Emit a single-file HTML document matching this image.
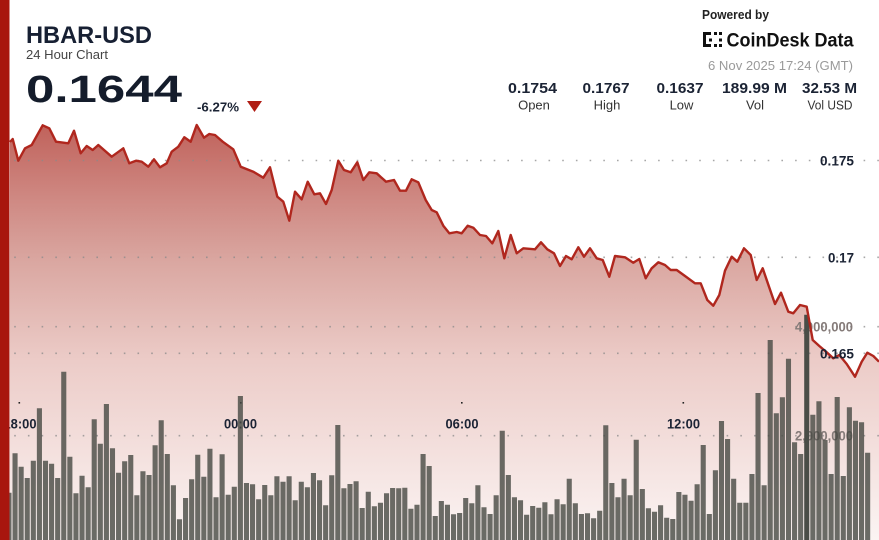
<!DOCTYPE html>
<html><head><meta charset="utf-8"><style>
html,body{margin:0;padding:0;background:#fff;overflow:hidden;}
svg{display:block;}
text{font-family:"Liberation Sans",Arial,sans-serif;}
</style></head><body>
<svg width="879" height="540" viewBox="0 0 879 540" xmlns="http://www.w3.org/2000/svg">
<defs>
<linearGradient id="ag" gradientUnits="userSpaceOnUse" x1="0" y1="125" x2="0" y2="540">
<stop offset="0" stop-color="#c0625b"/>
<stop offset="0.18" stop-color="#cf8983"/>
<stop offset="0.33" stop-color="#daa7a1"/>
<stop offset="0.57" stop-color="#ecccc8"/>
<stop offset="1" stop-color="#fbf4f3"/>
</linearGradient>
</defs>
<rect width="879" height="540" fill="#fff"/>
<path fill="url(#ag)" d="M10,540 L10,142 L12.7,139 L18.3,160.7 L25,148.3 L31.7,145 L42.7,125.3 L49.3,128.3 L56,141.7 L68.3,143.3 L74,130.7 L80.7,153.3 L86.7,146 L92.7,150 L98.3,145 L111.7,156.7 L123.3,148.3 L129.3,163.3 L136,160.7 L141.7,161.7 L148.3,166.7 L154,159.3 L160,167.3 L166.7,163.3 L171.7,151.7 L178.3,146.7 L184.3,137.3 L190.7,141.7 L196.7,125 L204,137.7 L209.3,134 L215,135 L222.7,141.7 L233.3,149.3 L240.7,166.7 L253.3,171.7 L263.3,177.7 L270,167.3 L277.3,196.7 L283.3,201.7 L289.3,220.7 L295,191.7 L301.7,199.3 L307.7,181.7 L314.3,194.3 L320,193.3 L326,204 L331.7,190 L338.3,160.7 L344,170 L350.7,172.3 L357.3,162.3 L363.3,180 L369.3,172.3 L376.7,173.3 L386,181.7 L394,180 L400,190.7 L406,190.7 L411.7,179.3 L418.3,182.3 L425.7,200 L431.7,210 L436.7,212.3 L443.3,225.7 L449.3,233.3 L456.7,232 L461.7,233.3 L467.7,225.7 L473.3,227.7 L480,235 L486,236 L492.3,243.3 L498.3,231 L504.3,258.3 L510.7,235 L516.7,253.3 L523.3,248.3 L535,249.3 L541,242.3 L547.3,249.3 L554,253.3 L560,266 L566,256 L571.7,259.3 L578.3,247.3 L584,256.7 L590,248.3 L596.7,258.3 L602.7,260 L609.3,276.7 L615,256 L625,257.3 L633.3,262.7 L639.3,259 L645.7,278.3 L651.7,268.3 L658.3,262.3 L665,265 L670.7,270 L676.7,270 L685,276 L695,283.3 L700.7,283.3 L707.3,300 L713.3,305.7 L719.3,295 L725,270.7 L731.7,256.7 L737.3,261.7 L744,248.3 L750.7,255 L756.7,280 L762.7,268.3 L769,286.7 L775,304 L781,292.7 L788.3,311.7 L793.3,313.3 L800,305 L806.7,306.7 L812.7,340 L819.3,346 L826,351.7 L833.3,358.3 L839.3,355 L846.7,364 L855,376.7 L861.7,361.7 L867.3,352.7 L873.3,356 L879,361.7 L879,540 Z"/>
<g stroke="#8a8a8a" stroke-width="1.6" stroke-dasharray="1.6 12.1" opacity="0.75">
<line x1="14.2" y1="160.5" x2="879" y2="160.5"/>
<line x1="14.2" y1="257.3" x2="879" y2="257.3"/>
<line x1="14.2" y1="353.3" x2="879" y2="353.3"/>
<line x1="14.2" y1="326.7" x2="879" y2="326.7"/>
<line x1="14.2" y1="435.7" x2="879" y2="435.7"/>
</g>
<g font-size="13.5" font-weight="bold" fill="#857b79" text-anchor="end">
<text x="853" y="331.5" textLength="58" lengthAdjust="spacingAndGlyphs">4,000,000</text>
<text x="853" y="440.7" textLength="58" lengthAdjust="spacingAndGlyphs">2,000,000</text>
</g>
<g fill="#222">
<rect x="18.5" y="402" width="1.6" height="1.6"/>
<rect x="240" y="402" width="1.6" height="1.6"/>
<rect x="461" y="402" width="1.6" height="1.6"/>
<rect x="682.5" y="402" width="1.6" height="1.6"/>
</g>
<g font-size="13.5" font-weight="bold" fill="#1b2334" text-anchor="middle">
<text x="20" y="428.5" textLength="33" lengthAdjust="spacingAndGlyphs">18:00</text>
<text x="240.5" y="428.5" textLength="33" lengthAdjust="spacingAndGlyphs">00:00</text>
<text x="462" y="428.5" textLength="33" lengthAdjust="spacingAndGlyphs">06:00</text>
<text x="683.5" y="428.5" textLength="33" lengthAdjust="spacingAndGlyphs">12:00</text>
</g>
<path fill="#464842" fill-opacity="0.8" d="M6.41 540V492.7h5.1V540z M12.5 540V453.3h5.1V540z M18.59 540V466.7h5.1V540z M24.68 540V478h5.1V540z M30.77 540V460.7h5.1V540z M36.86 540V408.3h5.1V540z M42.95 540V460.7h5.1V540z M49.04 540V463.7h5.1V540z M55.13 540V478h5.1V540z M61.22 540V371.7h5.1V540z M67.31 540V456.7h5.1V540z M73.4 540V493.3h5.1V540z M79.49 540V475.7h5.1V540z M85.58 540V487.3h5.1V540z M91.67 540V419.3h5.1V540z M97.76 540V443.7h5.1V540z M103.85 540V404h5.1V540z M109.94 540V448.3h5.1V540z M116.03 540V472.7h5.1V540z M122.12 540V461.3h5.1V540z M128.21 540V455h5.1V540z M134.3 540V495.3h5.1V540z M140.39 540V471.3h5.1V540z M146.48 540V475h5.1V540z M152.57 540V445.3h5.1V540z M158.66 540V420.3h5.1V540z M164.75 540V454h5.1V540z M170.84 540V485.3h5.1V540z M176.93 540V519.3h5.1V540z M183.02 540V498h5.1V540z M189.11 540V479.3h5.1V540z M195.2 540V454.7h5.1V540z M201.29 540V476.7h5.1V540z M207.38 540V448.7h5.1V540z M213.47 540V497.3h5.1V540z M219.56 540V454.3h5.1V540z M225.65 540V494.7h5.1V540z M231.74 540V486.7h5.1V540z M237.83 540V396h5.1V540z M243.92 540V483h5.1V540z M250.01 540V484.3h5.1V540z M256.1 540V499.3h5.1V540z M262.19 540V485h5.1V540z M268.28 540V495.3h5.1V540z M274.37 540V476.3h5.1V540z M280.46 540V481.7h5.1V540z M286.55 540V476.3h5.1V540z M292.64 540V500.3h5.1V540z M298.73 540V481.7h5.1V540z M304.82 540V487.3h5.1V540z M310.91 540V473h5.1V540z M317 540V480.3h5.1V540z M323.09 540V505.3h5.1V540z M329.18 540V475.3h5.1V540z M335.27 540V425h5.1V540z M341.36 540V488.3h5.1V540z M347.45 540V484h5.1V540z M353.54 540V481.3h5.1V540z M359.63 540V508h5.1V540z M365.72 540V491.7h5.1V540z M371.81 540V506.3h5.1V540z M377.9 540V502.7h5.1V540z M383.99 540V493.3h5.1V540z M390.08 540V488h5.1V540z M396.17 540V488.3h5.1V540z M402.26 540V487.7h5.1V540z M408.35 540V508.7h5.1V540z M414.44 540V504.7h5.1V540z M420.53 540V454h5.1V540z M426.62 540V466h5.1V540z M432.71 540V516h5.1V540z M438.8 540V501h5.1V540z M444.89 540V504.7h5.1V540z M450.98 540V514.3h5.1V540z M457.07 540V513h5.1V540z M463.16 540V498h5.1V540z M469.25 540V503.3h5.1V540z M475.34 540V485.3h5.1V540z M481.43 540V507.3h5.1V540z M487.52 540V514h5.1V540z M493.61 540V495.3h5.1V540z M499.7 540V430.7h5.1V540z M505.79 540V475h5.1V540z M511.88 540V497.3h5.1V540z M517.97 540V500.3h5.1V540z M524.06 540V514.7h5.1V540z M530.15 540V506h5.1V540z M536.24 540V507.7h5.1V540z M542.33 540V502.3h5.1V540z M548.42 540V514.3h5.1V540z M554.51 540V499.3h5.1V540z M560.6 540V504.3h5.1V540z M566.69 540V478.7h5.1V540z M572.78 540V503.3h5.1V540z M578.87 540V514h5.1V540z M584.96 540V513.3h5.1V540z M591.05 540V518.3h5.1V540z M597.14 540V510.7h5.1V540z M603.23 540V425.3h5.1V540z M609.32 540V483h5.1V540z M615.41 540V497.3h5.1V540z M621.5 540V478.7h5.1V540z M627.59 540V495.3h5.1V540z M633.68 540V439.7h5.1V540z M639.77 540V489h5.1V540z M645.86 540V508.3h5.1V540z M651.95 540V511.7h5.1V540z M658.04 540V505.3h5.1V540z M664.13 540V517.7h5.1V540z M670.22 540V519h5.1V540z M676.31 540V492h5.1V540z M682.4 540V494.7h5.1V540z M688.49 540V500.7h5.1V540z M694.58 540V484.3h5.1V540z M700.67 540V445h5.1V540z M706.76 540V514h5.1V540z M712.85 540V470.3h5.1V540z M718.94 540V421h5.1V540z M725.03 540V439h5.1V540z M731.12 540V478.7h5.1V540z M737.21 540V502.7h5.1V540z M743.3 540V502.7h5.1V540z M749.39 540V474h5.1V540z M755.48 540V393h5.1V540z M761.57 540V485.3h5.1V540z M767.66 540V340h5.1V540z M773.75 540V413.3h5.1V540z M779.84 540V397.3h5.1V540z M785.93 540V358.7h5.1V540z M792.02 540V442.3h5.1V540z M798.11 540V454h5.1V540z M810.29 540V414.7h5.1V540z M816.38 540V401.3h5.1V540z M822.47 540V440h5.1V540z M828.56 540V474h5.1V540z M834.65 540V397h5.1V540z M840.74 540V476h5.1V540z M846.83 540V407.3h5.1V540z M852.92 540V420.7h5.1V540z M859.01 540V422.3h5.1V540z M865.1 540V452.7h5.1V540z"/>
<path fill="#4a4d47" d="M804.2 540V314.7h5.1V540z"/>
<polyline fill="none" stroke="#b0271e" stroke-width="2.4" stroke-linejoin="round" points="10,142 12.7,139 18.3,160.7 25,148.3 31.7,145 42.7,125.3 49.3,128.3 56,141.7 68.3,143.3 74,130.7 80.7,153.3 86.7,146 92.7,150 98.3,145 111.7,156.7 123.3,148.3 129.3,163.3 136,160.7 141.7,161.7 148.3,166.7 154,159.3 160,167.3 166.7,163.3 171.7,151.7 178.3,146.7 184.3,137.3 190.7,141.7 196.7,125 204,137.7 209.3,134 215,135 222.7,141.7 233.3,149.3 240.7,166.7 253.3,171.7 263.3,177.7 270,167.3 277.3,196.7 283.3,201.7 289.3,220.7 295,191.7 301.7,199.3 307.7,181.7 314.3,194.3 320,193.3 326,204 331.7,190 338.3,160.7 344,170 350.7,172.3 357.3,162.3 363.3,180 369.3,172.3 376.7,173.3 386,181.7 394,180 400,190.7 406,190.7 411.7,179.3 418.3,182.3 425.7,200 431.7,210 436.7,212.3 443.3,225.7 449.3,233.3 456.7,232 461.7,233.3 467.7,225.7 473.3,227.7 480,235 486,236 492.3,243.3 498.3,231 504.3,258.3 510.7,235 516.7,253.3 523.3,248.3 535,249.3 541,242.3 547.3,249.3 554,253.3 560,266 566,256 571.7,259.3 578.3,247.3 584,256.7 590,248.3 596.7,258.3 602.7,260 609.3,276.7 615,256 625,257.3 633.3,262.7 639.3,259 645.7,278.3 651.7,268.3 658.3,262.3 665,265 670.7,270 676.7,270 685,276 695,283.3 700.7,283.3 707.3,300 713.3,305.7 719.3,295 725,270.7 731.7,256.7 737.3,261.7 744,248.3 750.7,255 756.7,280 762.7,268.3 769,286.7 775,304 781,292.7 788.3,311.7 793.3,313.3 800,305 806.7,306.7 812.7,340 819.3,346 826,351.7 833.3,358.3 839.3,355 846.7,364 855,376.7 861.7,361.7 867.3,352.7 873.3,356 879,361.7"/>
<g font-size="13.5" font-weight="bold" fill="#1b2334" text-anchor="end">
<text x="854" y="165.5" textLength="34" lengthAdjust="spacingAndGlyphs">0.175</text>
<text x="854" y="262.3" textLength="26" lengthAdjust="spacingAndGlyphs">0.17</text>
<text x="854" y="358.3" textLength="34" lengthAdjust="spacingAndGlyphs">0.165</text>
</g>
<rect x="0" y="0" width="9.5" height="540" fill="#a8160e"/>
<text x="26" y="43" font-size="24" font-weight="bold" fill="#172033" textLength="126" lengthAdjust="spacingAndGlyphs">HBAR-USD</text>
<text x="26" y="59" font-size="13" fill="#444" textLength="82" lengthAdjust="spacingAndGlyphs">24 Hour Chart</text>
<text x="26" y="102" font-size="38" font-weight="bold" fill="#141c2b" textLength="156" lengthAdjust="spacingAndGlyphs">0.1644</text>
<text x="197" y="111.5" font-size="13" font-weight="bold" fill="#1b2334" textLength="42" lengthAdjust="spacingAndGlyphs">-6.27%</text>
<polygon points="247,101 262,101 254.5,112" fill="#b01d14"/>
<text x="702" y="19" font-size="12.5" font-weight="bold" fill="#222" textLength="67" lengthAdjust="spacingAndGlyphs">Powered by</text>
<g fill="#111">
<rect x="703" y="32" width="3" height="15"/>
<rect x="703" y="32" width="8" height="3"/>
<rect x="703" y="44" width="8" height="3"/>
<rect x="709" y="38.5" width="3" height="3"/>
<rect x="714" y="32" width="3" height="3"/>
<rect x="714" y="44" width="3" height="3"/>
<rect x="719" y="32" width="3" height="3"/>
<rect x="719" y="38.5" width="3" height="3"/>
<rect x="719" y="44" width="3" height="3"/>
</g>
<text x="726.5" y="46.5" font-size="19" font-weight="bold" fill="#111" textLength="127" lengthAdjust="spacingAndGlyphs">CoinDesk Data</text>
<text x="853" y="70" font-size="13" fill="#9a9a9a" text-anchor="end" textLength="145" lengthAdjust="spacingAndGlyphs">6 Nov 2025 17:24 (GMT)</text>
<g font-size="15" font-weight="bold" fill="#1b2334" text-anchor="middle">
<text x="532.5" y="93" textLength="49" lengthAdjust="spacingAndGlyphs">0.1754</text>
<text x="606" y="93" textLength="47" lengthAdjust="spacingAndGlyphs">0.1767</text>
<text x="680" y="93" textLength="47" lengthAdjust="spacingAndGlyphs">0.1637</text>
<text x="754.5" y="93" textLength="65" lengthAdjust="spacingAndGlyphs">189.99 M</text>
<text x="829.5" y="93" textLength="55" lengthAdjust="spacingAndGlyphs">32.53 M</text>
</g>
<g font-size="13" fill="#333" text-anchor="middle">
<text x="534" y="109.5">Open</text>
<text x="607" y="109.5">High</text>
<text x="681.5" y="109.5">Low</text>
<text x="755" y="109.5">Vol</text>
<text x="830" y="109.5" textLength="45" lengthAdjust="spacingAndGlyphs">Vol USD</text>
</g>
</svg>
</body></html>
